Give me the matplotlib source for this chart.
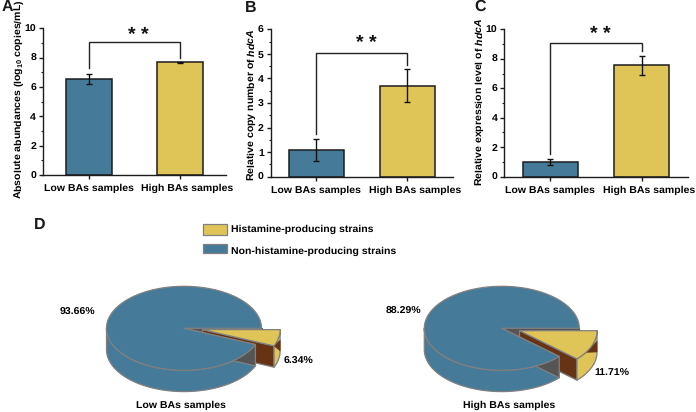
import numpy as np
import matplotlib
matplotlib.use('Agg')
import matplotlib.pyplot as plt
from matplotlib.ticker import MultipleLocator
from matplotlib.transforms import ScaledTranslation

plt.rcParams.update({
    'font.family': ['Liberation Sans', 'DejaVu Sans'], 'font.weight': 'bold',
    'mathtext.fontset': 'custom', 'mathtext.rm': 'Liberation Sans:bold',
    'mathtext.it': 'Liberation Sans:italic:bold', 'mathtext.bf': 'Liberation Sans:bold',
    'text.hinting': 'no_hinting', 'text.hinting_factor': 8,
})

W, H = 696, 412
BLUE, YELLOW, BROWN, GREY, EDGE, DARK = '#457B99', '#DFC557', '#663314', '#555555', '#808080', '#1c1c1c'
FS = 7.55

groups = ['Low BAs samples', 'High BAs samples']
a_vals = [6.55, 7.67]; a_err = [0.35, 0.05]
b_vals = [1.08, 3.70]; b_err = [0.46, 0.67]
c_vals = [1.00, 7.55]; c_err = [0.18, 0.65]
pie_low = [6.34, 93.66]
pie_high = [11.71, 88.29]

fig = plt.figure(figsize=(W / 100, H / 100), dpi=100)

def make_ax(x0, x1, ytop, ybot):
    return fig.add_axes([x0 / W, 1 - ybot / H, (x1 - x0) / W, (ybot - ytop) / H])

def bar_panel(box, vals, errs, ymax, major, minor, width, ylabel, label_xy, br, star_y, star_x):
    ax = make_ax(*box)
    ax.bar([0, 1], vals, width=width, color=[BLUE, YELLOW], edgecolor=DARK, linewidth=1.1, zorder=2)
    ax.errorbar([0, 1], vals, yerr=errs, fmt='none', ecolor='#111111', elinewidth=1.0,
                capsize=2.0, capthick=1.0, zorder=3)
    ax.set_xlim(-0.5, 1.5); ax.set_ylim(0, ymax)
    ax.spines[['top', 'right']].set_visible(False)
    for s in ('left', 'bottom'):
        ax.spines[s].set_linewidth(1.0)
        ax.spines[s].set_color(DARK)
    ax.yaxis.set_major_locator(MultipleLocator(major))
    ax.yaxis.set_minor_locator(MultipleLocator(minor))
    ax.set_xticks([0, 1]); ax.set_xticklabels(groups)
    ax.tick_params(axis='both', which='major', length=3, width=1.0, labelsize=FS, pad=2, color=DARK)
    ax.tick_params(axis='y', which='minor', length=1.8, width=0.8, color=DARK)
    ax.tick_params(axis='x', pad=3.5)
    shift = ScaledTranslation(7.5 / 100, 0, fig.dpi_scale_trans)
    lab = ax.get_xticklabels()[1]
    lab.set_transform(lab.get_transform() + shift)
    ax.plot([0, 0, 1, 1], br, color='#222222', lw=1.0, zorder=4, clip_on=False, solid_joinstyle='miter')
    ax.text(star_x, star_y, '* *', fontsize=14, ha='center', va='center', color='#111111')
    fig.text(label_xy[0] / W, 1 - label_xy[1] / H, ylabel, rotation=90, ha='center', va='center', fontsize=FS)

bar_panel((43, 225.7, 28.3, 175), a_vals, a_err, 10, 2, 1, 0.5,
          'Absolute abundances (log$_{10}$ copies/mL)', (19, 99.5), [7.3, 9.06, 9.06, 8.0], 9.55, 0.545)
bar_panel((270.7, 453, 29.3, 176.7), b_vals, b_err, 6, 1, 0.5, 0.6,
          'Relative copy number of $\\mathit{hdcA}$', (252, 105), [1.75, 5.05, 5.05, 4.55], 5.42, 0.545)
bar_panel((504.3, 687.7, 29.3, 176.7), c_vals, c_err, 10, 2, 1, 0.6,
          'Relative expression level of $\\mathit{hdcA}$', (480, 102), [1.55, 9.1, 9.1, 8.5], 9.65, 0.545)

ov = fig.add_axes([0, 0, 1, 1], facecolor='none')
ov.set_xlim(0, W); ov.set_ylim(H, 0); ov.axis('off')

def pie3d(values, cx, cy, rx=77.5, ry=42, depth=21.3, explode=19):
    span = np.deg2rad(values[0] * 3.6)
    pt = lambda a, ox=0, oy=0: np.column_stack([ox + cx + rx * np.cos(a), oy + cy + ry * np.sin(a)])
    lw = 0.9
    kw = dict(edgecolor=EDGE, linewidth=lw, joinstyle='round')
    # main body side wall
    a = np.linspace(span, np.pi, 80)
    ov.fill(*np.vstack([pt(a), pt(a[::-1], 0, depth)]).T, facecolor=BLUE, **kw)
    # far wall of the gap
    r0 = pt(np.array([0.0]))[0]
    ov.fill([cx, r0[0], r0[0], cx], [cy, r0[1], r0[1] + depth, cy + depth], facecolor=GREY, edgecolor=GREY, linewidth=lw)
    # exploded slice
    mid = span / 2
    ox, oy = explode * np.cos(mid), explode * np.sin(mid) * 0.35
    tip = (cx + ox, cy + oy)
    e = pt(np.array([span]), ox, oy)[0]
    s = pt(np.array([0.0]), ox, oy)[0]
    ov.fill([tip[0], e[0], e[0], tip[0]], [tip[1], e[1], e[1] + depth, tip[1] + depth], facecolor=BROWN, **kw)
    arc = np.linspace(0, span, 40)
    ov.fill(*np.vstack([pt(arc, ox, oy), pt(arc[::-1], ox, oy + depth)]).T, facecolor=YELLOW, **kw)
    m = pt(np.array([min(span, np.deg2rad(31))]), ox, oy)[0]
    ov.fill([m[0], s[0], s[0]], [m[1], s[1] + depth * 0.5, s[1] + depth], facecolor=BROWN, edgecolor=BROWN, linewidth=0.4)
    ov.fill(*np.vstack([[tip], pt(arc, ox, oy)]).T, facecolor=YELLOW, **kw)
    # near cut face of the main pie, in front of the slice's brown face
    r1 = pt(np.array([span]))[0]
    ov.fill([cx, r1[0], r1[0], cx], [cy, r1[1], r1[1] + depth, cy + depth], facecolor=GREY, edgecolor=EDGE, linewidth=lw)
    # main top
    a = np.linspace(span, 2 * np.pi, 200)
    ov.fill(*np.vstack([[(cx, cy)], pt(a)]).T, facecolor=BLUE, **kw)

pie3d(pie_low, 184, 328.3)
pie3d(pie_high, 501.8, 328.3)

def txt(x, y, s, size=FS, **k):
    ov.text(x, y, s, fontsize=size, ha=k.pop('ha', 'center'), va='center', **k)

txt(77, 312, f'{pie_low[1]:.2f}%')
txt(299, 361, f'{pie_low[0]:.2f}%')
txt(181, 405, groups[0])
txt(403, 311, f'{pie_high[1]:.2f}%')
txt(612, 373, f'{pie_high[0]:.2f}%')
txt(509, 405, groups[1])

ov.add_patch(plt.Rectangle((203, 223.5), 24, 11.5, facecolor=YELLOW, edgecolor=EDGE, linewidth=0.9))
ov.add_patch(plt.Rectangle((203, 243.5), 24, 9.5, facecolor=BLUE, edgecolor=EDGE, linewidth=0.9))
txt(231, 229, 'Histamine-producing strains', ha='left')
txt(231, 251, 'Non-histamine-producing strains', ha='left')

for x, y, s in [(7, 7, 'A'), (250.5, 7.5, 'B'), (480.5, 7, 'C'), (40, 225, 'D')]:
    txt(x, y, s, size=11.5, color='#1a1a1a')

fig.savefig('out.png', dpi=100)
